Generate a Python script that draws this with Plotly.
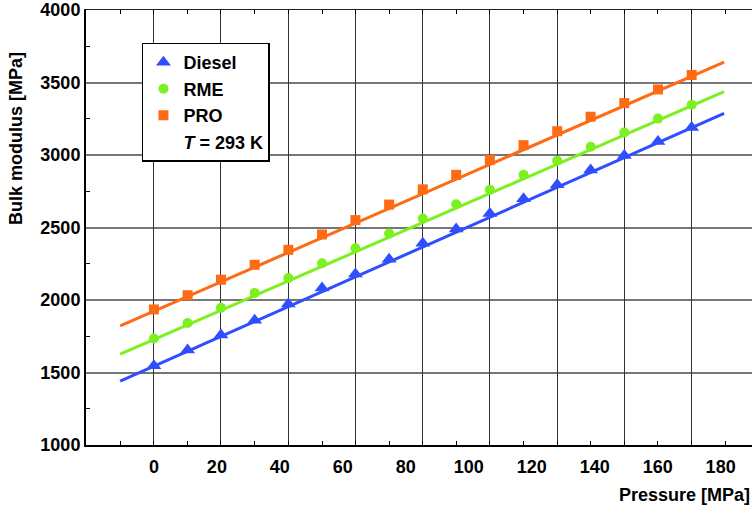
import plotly.graph_objects as go

# ---- data ----
pressure = [0, 10.7, 21.3, 32.0, 42.7, 53.4, 64.0, 74.7, 85.4, 96.0,
            106.7, 117.4, 128.1, 138.7, 149.4, 160.1, 170.8]
diesel = [1547, 1655, 1759, 1860, 1972, 2083, 2179, 2281, 2391, 2489,
          2596, 2699, 2794, 2897, 2996, 3093, 3189]
rme = [1734, 1841, 1946, 2049, 2151, 2254, 2357, 2459, 2562, 2660,
       2760, 2863, 2961, 3057, 3155, 3251, 3347]
pro = [1935, 2033, 2140, 2243, 2346, 2452, 2551, 2658, 2763, 2863,
       2966, 3068, 3164, 3264, 3358, 3452, 3552]

# linear fit lines (end points)
fit_x = [-10.7, 181.1]
fit_diesel = [1440, 3287]
fit_rme = [1627, 3437]
fit_pro = [1821, 3641]

x_tick_labels = ["0", "20", "40", "60", "80", "100", "120", "140", "160", "180"]
x_tick_values = [0, 20, 40, 60, 80, 100, 120, 140, 160, 180]
x_minor_ticks = [-10.7, 0, 10.7, 21.3, 32.0, 42.7, 53.4, 64.0, 74.7, 85.4, 96.0,
                 106.7, 117.4, 128.1, 138.7, 149.4, 160.1, 170.8, 181.4]
x_grid = [0, 21.3, 42.7, 64.0, 85.4, 106.7, 128.1, 149.4, 170.8]

C_DIESEL = "#2f4fff"
C_RME = "#7cf020"
C_PRO = "#ff6a14"

FONT = "Liberation Sans, Arial, sans-serif"
FS = 18

fig = go.Figure()

for fy, col in [(fit_pro, C_PRO), (fit_rme, C_RME), (fit_diesel, C_DIESEL)]:
    fig.add_trace(go.Scatter(x=fit_x, y=fy, mode="lines",
                             line=dict(color=col, width=3),
                             showlegend=False, hoverinfo="skip"))

fig.add_trace(go.Scatter(x=pressure, y=diesel, mode="markers", name="Diesel",
                         marker=dict(symbol="triangle-up", size=13, color=C_DIESEL)))
fig.add_trace(go.Scatter(x=pressure, y=rme, mode="markers", name="RME",
                         marker=dict(symbol="circle", size=10, color=C_RME)))
fig.add_trace(go.Scatter(x=pressure, y=pro, mode="markers", name="PRO",
                         marker=dict(symbol="square", size=10, color=C_PRO)))
# legend-only entry for the temperature note; also anchors the grid axis (x2)
fig.add_trace(go.Scatter(x=[None], y=[None], mode="markers", name="<i>T</i> = 293 K",
                         xaxis="x2", marker=dict(color="rgba(0,0,0,0)", size=1)))

xr = [-21.57, 189.96]

fig.update_layout(
    width=752, height=508,
    margin=dict(l=86, r=0, t=7, b=63),
    paper_bgcolor="white", plot_bgcolor="white",
    font=dict(family=FONT, size=FS, color="black", weight="bold"),
    showlegend=True,
    legend=dict(x=0.084, y=0.925, xanchor="left", yanchor="top",
                bgcolor="white", bordercolor="black", borderwidth=1.5,
                font=dict(family=FONT, size=FS, color="black", weight="bold"),
                tracegroupgap=0),
    xaxis=dict(range=xr, tickmode="array", tickvals=x_tick_values,
               ticktext=x_tick_labels, ticks="", showgrid=False, zeroline=False,
               showline=True, linecolor="black", linewidth=2,
               ticklabelstandoff=4,
               minor=dict(tickmode="array", tickvals=x_minor_ticks, ticks="inside",
                          ticklen=4, tickwidth=1, tickcolor="black", showgrid=False)),
    xaxis2=dict(range=xr, overlaying="x", matches="x", side="top",
                tickmode="array", tickvals=x_grid, showticklabels=False, ticks="",
                showgrid=True, gridcolor="#333333", gridwidth=1.2, zeroline=False,
                showline=True, linecolor="#222222", linewidth=1,
                minor=dict(tickmode="array", tickvals=x_minor_ticks, ticks="inside",
                           ticklen=4, tickwidth=1, tickcolor="black", showgrid=False)),
    yaxis=dict(range=[1000, 4000], tickmode="linear", tick0=1000, dtick=500,
               ticks="", showgrid=True, gridcolor="#777777", gridwidth=1.5,
               zeroline=False, showline=True, linecolor="black", linewidth=2,
               ticklabeloverflow="allow",
               minor=dict(tickmode="linear", dtick=250, ticks="inside", ticklen=4,
                          tickwidth=1, tickcolor="black", showgrid=False)),
    annotations=[
        dict(text="Pressure [MPa]", xref="paper", yref="paper", x=1.0, y=-0.116,
             xanchor="right", yanchor="middle", showarrow=False,
             font=dict(family=FONT, size=FS, color="black", weight="bold")),
        dict(text="Bulk modulus [MPa]", xref="paper", yref="paper", x=-0.104, y=0.705,
             xanchor="center", yanchor="middle", textangle=-90, showarrow=False,
             font=dict(family=FONT, size=FS, color="black", weight="bold")),
    ],
)

fig.write_html("out.html", config={"displayModeBar": False},
               post_script="document.body.style.margin='0';")
